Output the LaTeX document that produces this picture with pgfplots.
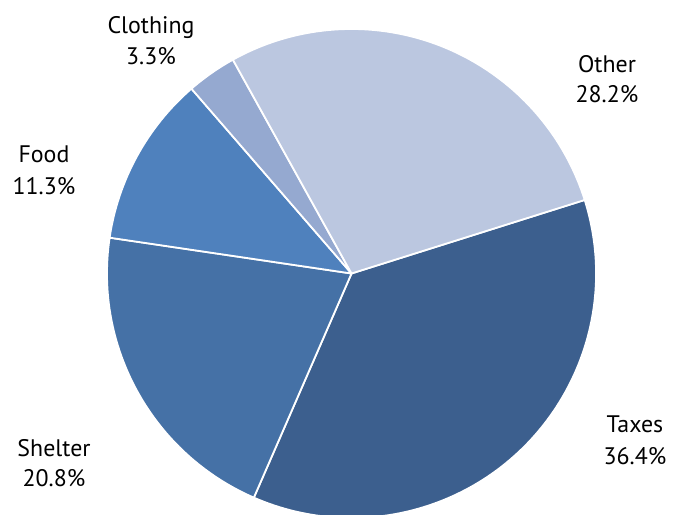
\documentclass[border=0pt]{standalone}
\usepackage{pgfplots}
\pgfplotsset{compat=1.18}
\usepackage{fontspec}
\setmainfont{PT Sans}
\definecolor{cTax}{HTML}{3C5F8E}
\definecolor{cShel}{HTML}{4571A6}
\definecolor{cFood}{HTML}{4F81BD}
\definecolor{cClo}{HTML}{95A9D0}
\definecolor{cOth}{HTML}{BBC7E0}
\def\cx{351.5}
\def\cy{241.5}
\def\rad{244.5bp}
\xdef\curang{17.5}
\newcommand\slice[2]{%
  \pgfmathsetmacro\endang{\curang-3.6*#1}%
  \edef\temp{\noexpand\fill[#2, draw=white, line width=1.8pt, line join=round] (axis cs:\cx,\cy) -- ++(\curang:\rad) arc[start angle=\curang, end angle=\endang, radius=\rad] -- cycle;}%
  \temp
  \xdef\curang{\endang}}
\begin{document}
\begin{tikzpicture}
\begin{axis}[x=1bp, y=1bp, xmin=0, xmax=675, ymin=0, ymax=515,
  hide axis, clip=true]
\slice{36.4}{cTax}
\slice{20.8}{cShel}
\slice{11.3}{cFood}
\slice{3.3}{cClo}
\slice{28.2}{cOth}
\tikzset{lab/.style={anchor=base, inner sep=0pt, font=\fontsize{24}{31}\selectfont}}
\node[lab] at (axis cs:151,481) {Clothing};
\node[lab] at (axis cs:151,450) {3.3\%};
\node[lab] at (axis cs:607,442) {Other};
\node[lab] at (axis cs:607,412) {28.2\%};
\node[lab] at (axis cs:44,352) {Food};
\node[lab] at (axis cs:44,320) {11.3\%};
\node[lab] at (axis cs:54,58) {Shelter};
\node[lab] at (axis cs:54,28) {20.8\%};
\node[lab] at (axis cs:635,82) {Taxes};
\node[lab] at (axis cs:635,50) {36.4\%};
\end{axis}
\pgfresetboundingbox
\useasboundingbox (current axis.south west) rectangle (current axis.north east);
\end{tikzpicture}
\end{document}
